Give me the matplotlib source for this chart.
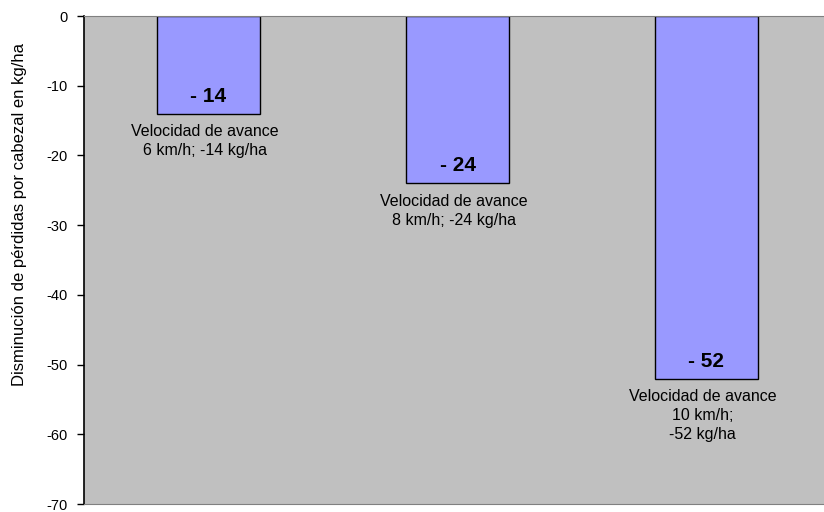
import matplotlib.pyplot as plt
import numpy as np

velocidades = ['6 km/h', '8 km/h', '10 km/h']
perdidas = [-14, -24, -52]
etiquetas_barra = ['- 14', '- 24', '- 52']
notas = ['Velocidad de avance\n6 km/h; -14 kg/ha',
         'Velocidad de avance\n8 km/h; -24 kg/ha',
         'Velocidad de avance\n10 km/h;\n-52 kg/ha']
ticks_y = [0, -10, -20, -30, -40, -50, -60, -70]

plt.rcParams['font.family'] = ['Liberation Sans', 'DejaVu Sans']

fig = plt.figure(figsize=(8.24, 5.12), dpi=100)
ax = fig.add_axes([84 / 824, 1 - 504 / 512, 747 / 824, 488 / 512])
ax.set_facecolor('#c0c0c0')

x = np.arange(len(velocidades))
ax.bar(x, perdidas, width=0.41, color='#9999ff', edgecolor='black', linewidth=1.0)

for xi, val, etq, nota in zip(x, perdidas, etiquetas_barra, notas):
    ax.text(xi, val + 1.7, etq, ha='center', va='baseline', fontsize=15,
            fontweight='bold', color='black')
    ax.text(xi - 0.015, val - 1.5, nota, ha='center', va='top', fontsize=11.5,
            linespacing=1.35, color='black')

ax.set_xlim(-0.5, 2.5)
ax.set_ylim(-70, 0)
ax.set_yticks(ticks_y)
ax.set_yticklabels([str(t) for t in ticks_y], fontsize=10.5)
ax.set_xticks([])
ax.tick_params(axis='y', length=5, width=1, color='black', pad=7)

ax.spines['left'].set_color('black')
ax.spines['left'].set_linewidth(1.2)
ax.spines['bottom'].set_color('#808080')
ax.spines['top'].set_color('#808080')
ax.spines['right'].set_visible(False)

fig.text(20 / 824, 1 - 214 / 512, 'Disminución de pérdidas por cabezal en kg/ha',
         rotation=90, ha='center', va='center', fontsize=12)

fig.savefig('out.png', dpi=100)
